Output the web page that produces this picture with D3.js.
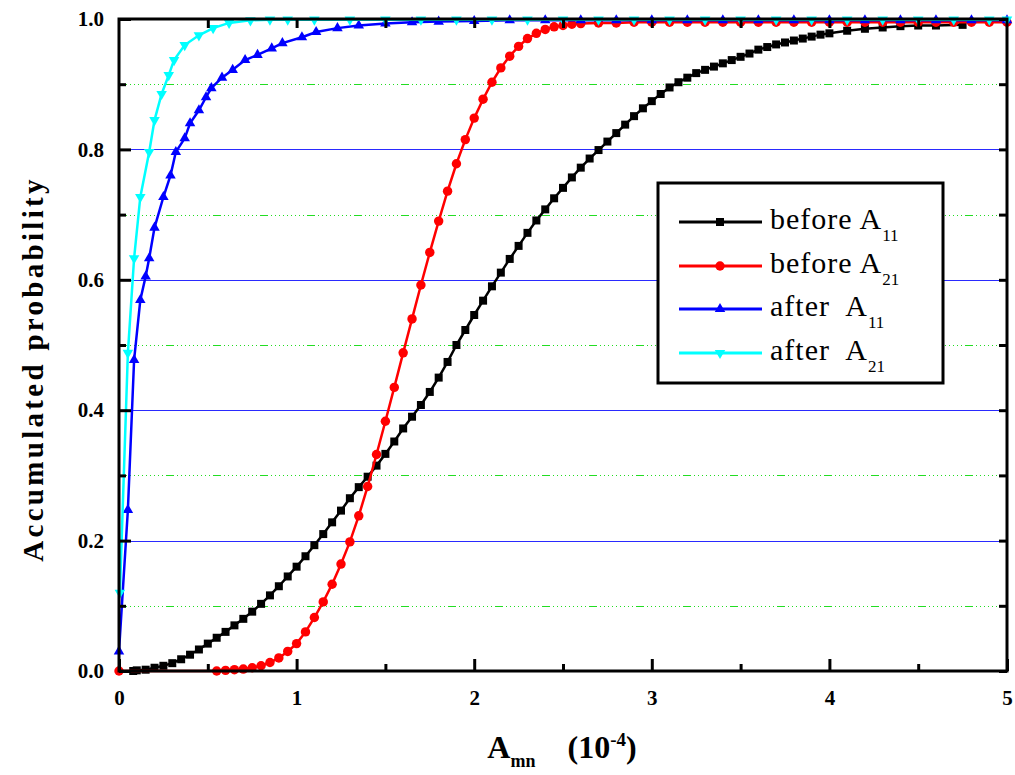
<!DOCTYPE html>
<html>
<head>
<meta charset="utf-8">
<script src="https://cdn.jsdelivr.net/npm/d3@7/dist/d3.min.js"></script>
<style>
  body { margin: 0; background: #fff; }
  text { font-family: "Liberation Serif", "Times New Roman", serif; }
</style>
</head>
<body>
<div id="chart"></div>
<script>
// data (x in units of 1e-4, y = accumulated probability)
var beforeA11_x = [0.08,0.10,0.15,0.20,0.25,0.30,0.35,0.40,0.45,0.50,0.55,0.60,0.65,0.70,0.75,0.80,0.85,0.90,0.95,1.00,
  1.05,1.10,1.15,1.20,1.25,1.30,1.35,1.40,1.45,1.50,1.55,1.60,1.65,1.70,1.75,1.80,1.85,1.90,1.95,2.00,
  2.05,2.10,2.15,2.20,2.25,2.30,2.35,2.40,2.45,2.50,2.55,2.60,2.65,2.70,2.75,2.80,2.85,2.90,2.95,3.00,
  3.05,3.10,3.15,3.20,3.25,3.30,3.35,3.40,3.45,3.50,3.55,3.60,3.65,3.70,3.75,3.80,3.85,3.90,3.95,4.00,
  4.10,4.20,4.30,4.40,4.50,4.60,4.75];
var beforeA11_y = [0.000,0.001,0.002,0.005,0.008,0.012,0.018,0.025,0.033,0.042,0.051,0.060,0.070,0.080,0.091,0.103,0.116,0.130,0.145,0.160,
  0.176,0.193,0.210,0.228,0.246,0.265,0.282,0.298,0.315,0.333,0.352,0.372,0.390,0.408,0.428,0.450,0.474,0.500,0.523,0.546,
  0.568,0.590,0.611,0.632,0.652,0.672,0.691,0.708,0.725,0.741,0.757,0.772,0.786,0.799,0.812,0.825,0.838,0.851,0.863,0.874,
  0.885,0.895,0.903,0.910,0.917,0.922,0.927,0.932,0.937,0.942,0.947,0.953,0.957,0.961,0.964,0.967,0.970,0.973,0.976,0.978,
  0.982,0.985,0.987,0.989,0.990,0.990,0.991];

var beforeA21_x = [0.00,0.55,0.60,0.65,0.70,0.75,0.80,0.85,0.90,0.95,1.00,1.05,1.10,1.15,1.20,1.25,1.30,1.35,1.40,1.45,
  1.50,1.55,1.60,1.65,1.70,1.75,1.80,1.85,1.90,1.95,2.00,2.05,2.10,2.15,2.20,2.25,2.30,2.35,2.40,2.45,
  2.50,2.55,2.60,2.70,2.80,2.90,3.00,3.10,3.20,3.30,3.40,3.50,3.60,3.70,3.80,3.90,4.00,4.10,4.20,4.30,
  4.40,4.50,4.60,4.70,4.80,4.90,5.00];
var beforeA21_y = [0.000,0.000,0.001,0.002,0.003,0.005,0.008,0.013,0.020,0.030,0.042,0.060,0.082,0.106,0.133,0.164,0.198,0.238,0.283,0.332,
  0.383,0.435,0.488,0.540,0.592,0.642,0.690,0.736,0.778,0.815,0.848,0.877,0.903,0.925,0.943,0.958,0.970,0.978,0.984,0.988,
  0.990,0.992,0.993,0.994,0.994,0.995,0.995,0.995,0.995,0.995,0.995,0.995,0.995,0.995,0.995,0.995,0.995,0.995,0.995,0.995,
  0.995,0.995,0.995,0.995,0.995,0.995,0.995];

var afterA11_x = [0.00,0.05,0.085,0.12,0.15,0.17,0.20,0.25,0.29,0.32,0.37,0.40,0.45,0.49,0.52,0.58,0.64,0.71,0.78,0.86,
  0.92,1.03,1.11,1.23,1.35,1.50,1.65,1.80,2.00,2.20,2.40,2.60,2.80,3.00,3.20,3.40,3.60,3.80,4.00,4.20,
  4.40,4.60,4.80,5.00];
var afterA11_y = [0.030,0.247,0.477,0.569,0.605,0.633,0.680,0.727,0.760,0.796,0.817,0.840,0.860,0.880,0.894,0.910,0.922,0.937,0.945,0.955,
  0.963,0.972,0.980,0.986,0.990,0.993,0.995,0.996,0.997,0.998,0.998,0.998,0.998,0.998,0.998,0.998,0.998,0.998,0.998,0.998,
  0.998,0.998,0.998,0.998];

var afterA21_x = [0.005,0.05,0.085,0.12,0.17,0.20,0.24,0.28,0.31,0.37,0.45,0.53,0.62,0.74,0.85,0.95,1.10,1.30,1.50,1.70,
  1.90,2.10,2.30,2.50,2.70,2.90,3.10,3.30,3.50,3.70,3.90,4.10,4.30,4.50,4.70,4.90,5.00];
var afterA21_y = [0.120,0.488,0.633,0.727,0.796,0.845,0.885,0.914,0.937,0.960,0.975,0.986,0.994,0.998,0.999,0.999,0.999,0.999,0.999,0.999,
  0.999,0.999,0.999,0.999,0.999,0.999,0.999,0.999,0.999,0.999,0.999,0.999,0.999,0.999,0.999,0.999,0.999];

var seriesNames = ["before A", "before A", "after  A", "after  A"];
var seriesSubs = ["11", "21", "11", "21"];
var seriesColors = ["#000000", "#ff0000", "#0000ff", "#00ffff"];
var xTicks = [0, 1, 2, 3, 4, 5];
var yTicks = [0, 0.2, 0.4, 0.6, 0.8, 1.0];

var svg = d3.select('#chart').append('svg').attr("width", 1015).attr("height", 775);

var mLeft = 119, mRight = 1007, mTop = 19, mBottom = 671;
var x_scale = d3.scaleLinear().domain([0, 5]).range([mLeft, mRight]);
var y_scale = d3.scaleLinear().domain([0, 1]).range([mBottom, mTop]);

// grid lines: blue at major, green dash-dot at minor
var majorGrid = [0.2, 0.4, 0.6, 0.8];
var minorGrid = [0.1, 0.3, 0.5, 0.7, 0.9];
svg.append("g").selectAll("line").data(majorGrid).enter().append("line")
    .attr("x1", mLeft).attr("x2", mRight)
    .attr("y1", function (d) { return Math.round(y_scale(d)) + 0.5; })
    .attr("y2", function (d) { return Math.round(y_scale(d)) + 0.5; })
    .attr("stroke", "#2a2aff").attr("stroke-width", 1);
svg.append("g").selectAll("line").data(minorGrid).enter().append("line")
    .attr("x1", mLeft).attr("x2", mRight)
    .attr("y1", function (d) { return Math.round(y_scale(d)) + 0.5; })
    .attr("y2", function (d) { return Math.round(y_scale(d)) + 0.5; })
    .attr("stroke", "#22dd22").attr("stroke-width", 1)
    .attr("shape-rendering", "crispEdges")
    .attr("stroke-dasharray", "8 3 1 3 1 3 1 3 1 3 1 3 1 3 1 3 1 3 1 3");

// series
var series = [
    { x: beforeA11_x, y: beforeA11_y, sym: d3.symbolSquare, size: 64 },
    { x: beforeA21_x, y: beforeA21_y, sym: d3.symbolCircle, size: 70 },
    { x: afterA11_x, y: afterA11_y, sym: d3.symbolTriangle, size: 48 },
    { x: afterA21_x, y: afterA21_y, sym: d3.symbolTriangle, size: 48, flip: true }
];

var line = d3.line()
    .x(function (d) { return x_scale(d[0]); })
    .y(function (d) { return y_scale(d[1]); });

series.forEach(function (s, i) {
    var pts = s.x.map(function (v, j) { return [v, s.y[j]]; });
    var g = svg.append("g");
    g.append("path").datum(pts)
        .attr("d", line)
        .attr("fill", "none")
        .attr("stroke", seriesColors[i])
        .attr("stroke-width", 2.5);
    g.selectAll("path.m").data(pts).enter().append("path")
        .attr("class", "m")
        .attr("d", d3.symbol().type(s.sym).size(s.size))
        .attr("transform", function (d) {
            return "translate(" + x_scale(d[0]) + "," + y_scale(d[1]) + ")" + (s.flip ? " rotate(180)" : "");
        })
        .attr("fill", seriesColors[i]);
});

// axes with inward ticks
var yAxis = svg.append("g").attr("transform", "translate(" + mLeft + ",0)")
    .call(d3.axisLeft(y_scale).tickValues(yTicks).tickFormat(d3.format(".1f")).tickSizeInner(-12).tickSizeOuter(0).tickPadding(15));
var yMinor = svg.append("g").attr("transform", "translate(" + mLeft + ",0)")
    .call(d3.axisLeft(y_scale).tickValues(minorGrid).tickFormat("").tickSizeInner(-7).tickSizeOuter(0));
var yRight = svg.append("g").attr("transform", "translate(" + mRight + ",0)")
    .call(d3.axisRight(y_scale).tickValues(yTicks.concat(minorGrid)).tickFormat("").tickSizeInner(-8).tickSizeOuter(0));
var xAxis = svg.append("g").attr("transform", "translate(0," + mBottom + ")")
    .call(d3.axisBottom(x_scale).tickValues(xTicks).tickFormat(d3.format("d")).tickSizeInner(-12).tickSizeOuter(0).tickPadding(19));
var xMinor = svg.append("g").attr("transform", "translate(0," + mBottom + ")")
    .call(d3.axisBottom(x_scale).tickValues([0.5, 1.5, 2.5, 3.5, 4.5]).tickFormat("").tickSizeInner(-7).tickSizeOuter(0));
var xTop = svg.append("g").attr("transform", "translate(0," + mTop + ")")
    .call(d3.axisTop(x_scale).tickValues([0.5, 1, 1.5, 2, 2.5, 3, 3.5, 4, 4.5]).tickFormat("").tickSizeInner(-9).tickSizeOuter(0));

[yAxis, yMinor, yRight, xAxis, xMinor, xTop].forEach(function (a) {
    a.attr("font-family", null).attr("font-size", null);
    a.select(".domain").remove();
    a.selectAll(".tick line").attr("stroke", "#000").attr("stroke-width", 3);
    a.selectAll(".tick text")
        .style("font-family", "'Liberation Serif', serif")
        .style("font-size", "21px").style("font-weight", "bold")
        .attr("fill", "#000");
});

// frame
svg.append("rect")
    .attr("x", mLeft).attr("y", mTop)
    .attr("width", mRight - mLeft).attr("height", mBottom - mTop)
    .attr("fill", "none").attr("stroke", "#000").attr("stroke-width", 3);

// axis titles
svg.append("text")
    .attr("transform", "translate(43,369) rotate(-90)")
    .attr("text-anchor", "middle")
    .style("font-weight", "bold").style("font-size", "29px").style("letter-spacing", "3.3px")
    .text("Accumulated probability");

var xt = svg.append("text")
    .attr("x", 562).attr("y", 758)
    .attr("text-anchor", "middle")
    .style("font-weight", "bold").style("font-size", "32px")
    .attr("xml:space", "preserve");
xt.append("tspan").text("A");
xt.append("tspan").attr("dy", 9).style("font-size", "18px").text("mn");
xt.append("tspan").attr("dy", -9).text("    (10");
xt.append("tspan").attr("dy", -12).style("font-size", "19px").text("-4");
xt.append("tspan").attr("dy", 12).text(")");

// legend
var legend = svg.append("g");
legend.append("rect")
    .attr("x", 658).attr("y", 183).attr("width", 285).attr("height", 200)
    .attr("fill", "#fff").attr("stroke", "#000").attr("stroke-width", 3);
var rowY = [222, 266, 309, 353];
series.forEach(function (s, i) {
    var ry = rowY[i];
    legend.append("line")
        .attr("x1", 679).attr("x2", 762).attr("y1", ry).attr("y2", ry)
        .attr("stroke", seriesColors[i]).attr("stroke-width", 3);
    legend.append("path")
        .attr("d", d3.symbol().type(s.sym).size(s.size))
        .attr("transform", "translate(720," + ry + ")" + (s.flip ? " rotate(180)" : ""))
        .attr("fill", seriesColors[i]);
    var t = legend.append("text")
        .attr("x", 770).attr("y", ry + 7)
        .attr("xml:space", "preserve")
        .style("font-size", "30px").style("letter-spacing", "1px");
    t.append("tspan").text(seriesNames[i]);
    t.append("tspan").attr("dy", 12).style("font-size", "17px").style("letter-spacing", "0px").text(seriesSubs[i]);
});
</script>
</body>
</html>
